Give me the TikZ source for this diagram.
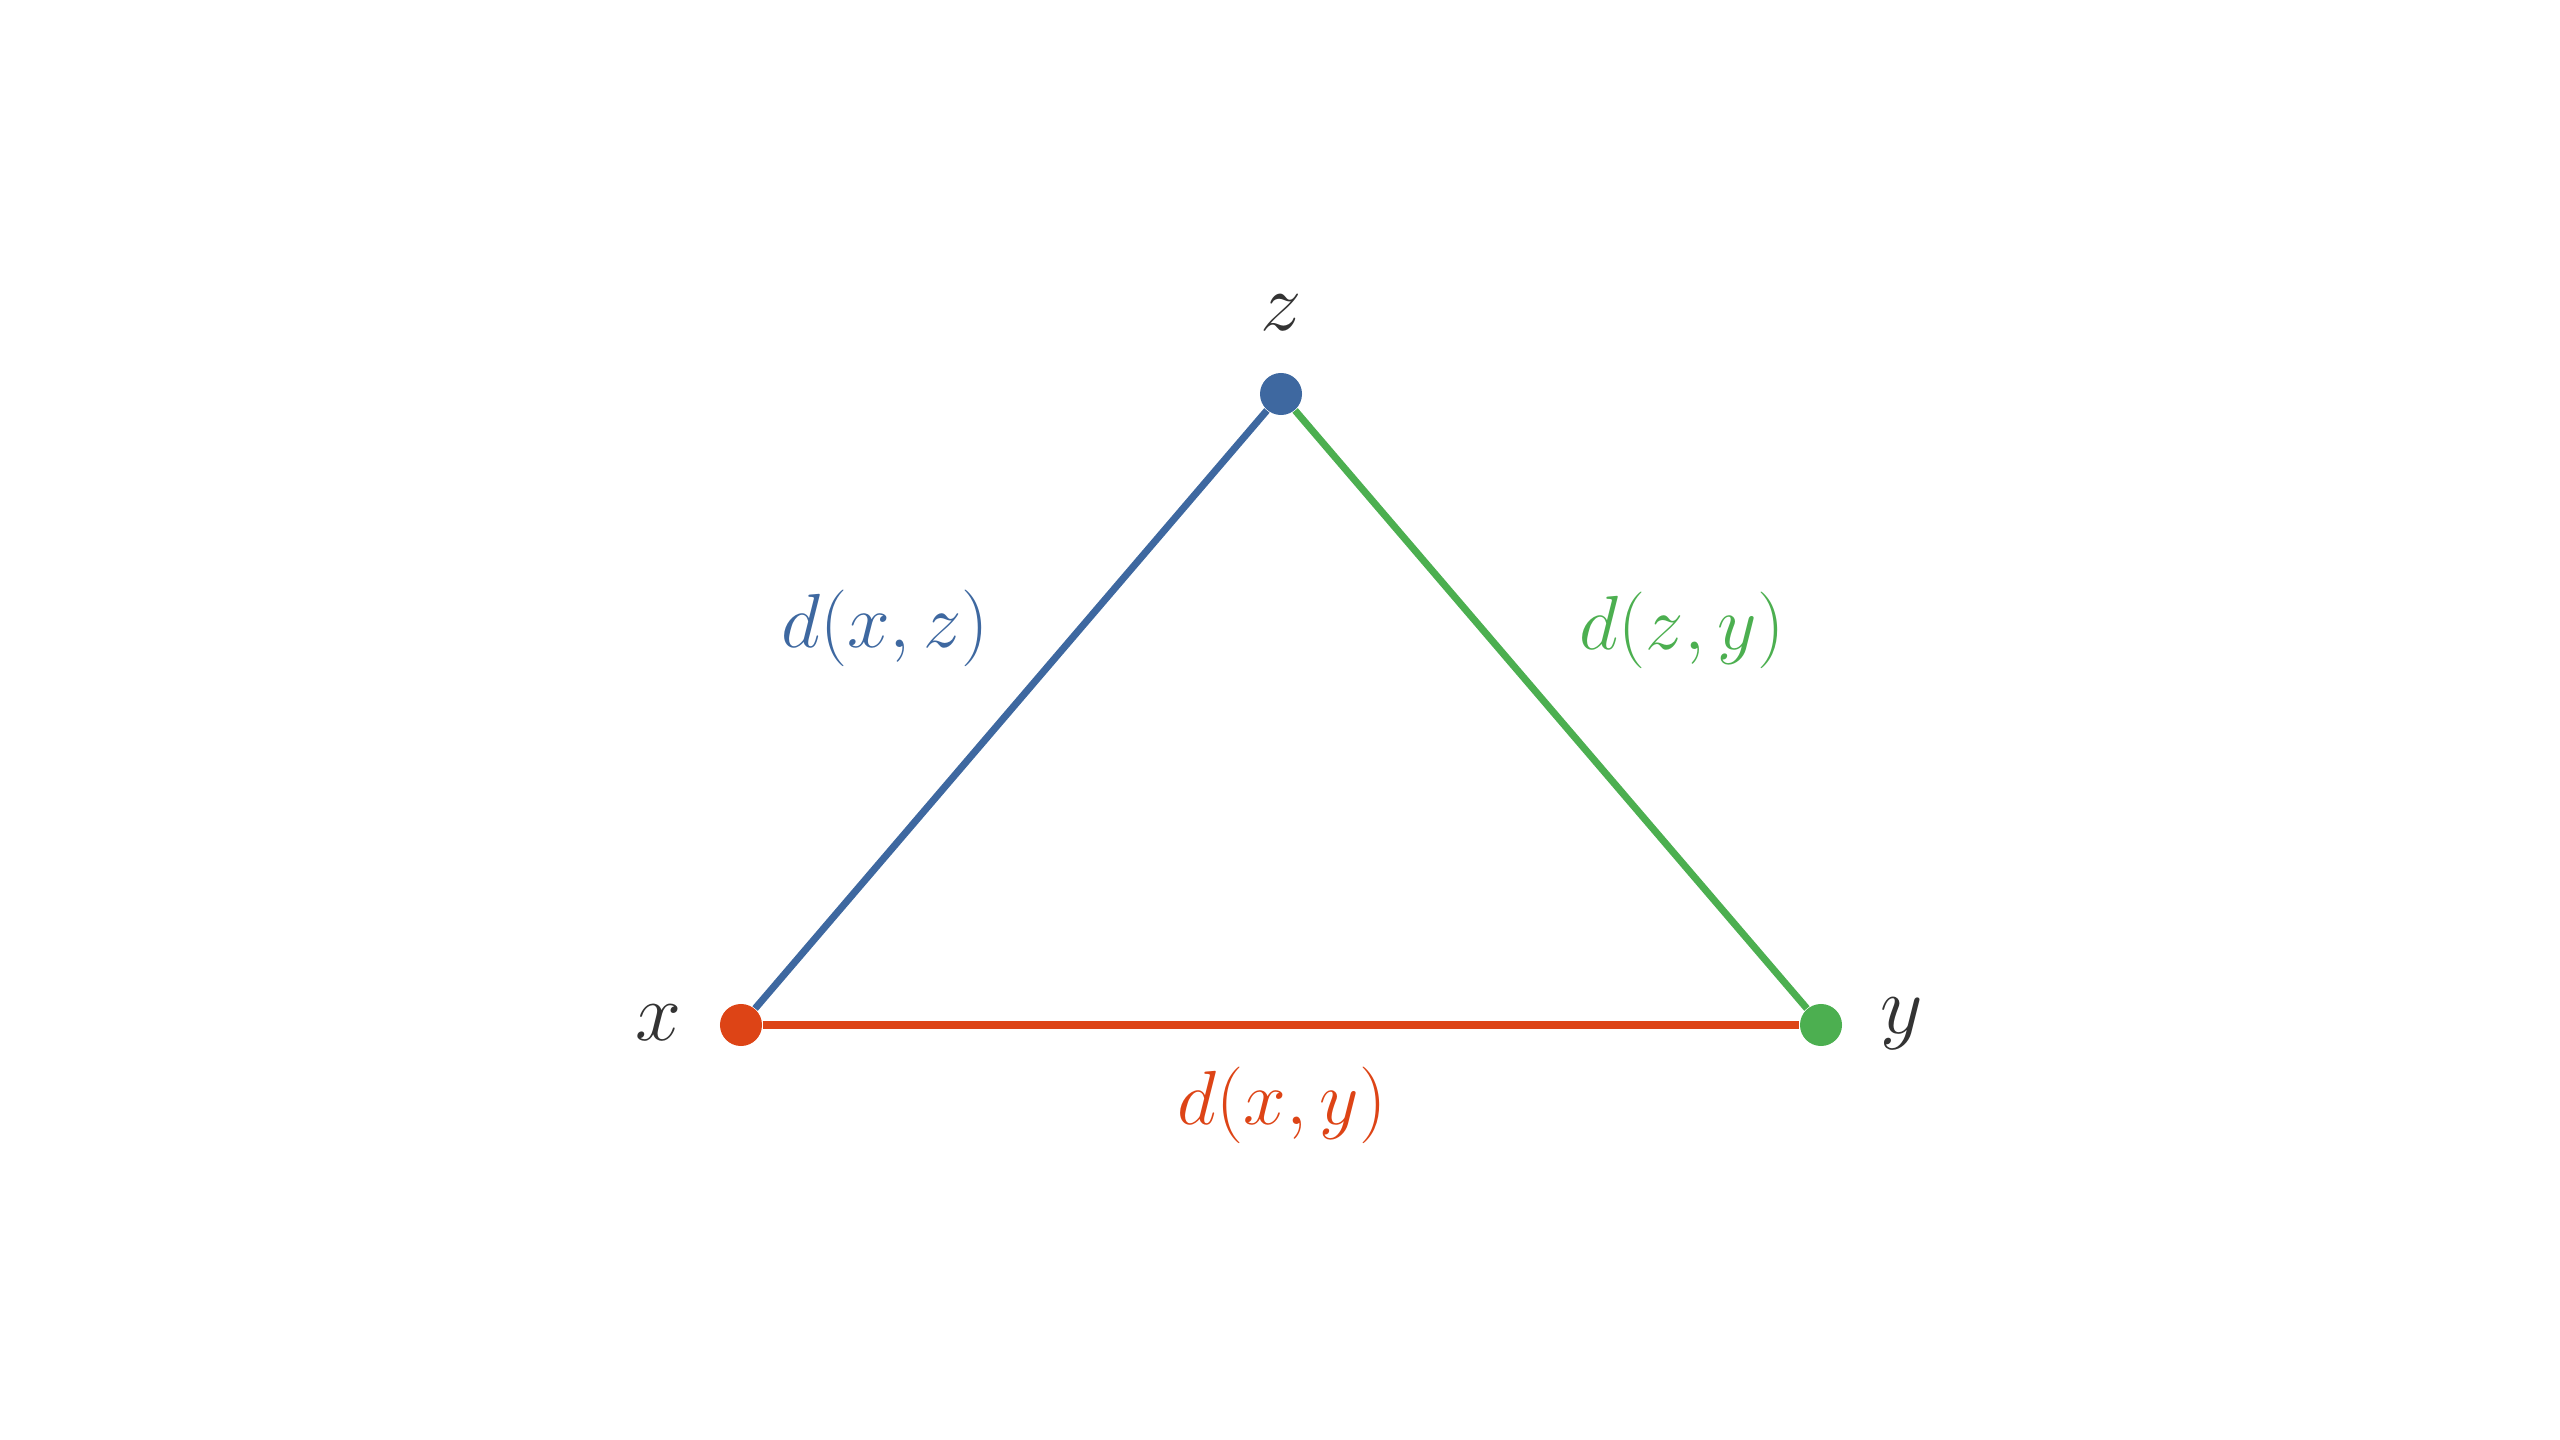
\RequirePackage{fix-cm}
\documentclass[tikz,border=0pt]{standalone}
\usepackage{amssymb}
\usepackage{mathtools}
\usepackage{tikz}
\definecolor{distblue}{RGB}{62,104,160}
\definecolor{distred}{RGB}{221,68,22}
\definecolor{distgreen}{RGB}{76,175,80}
\definecolor{ptlabel}{RGB}{51,51,51}

\begin{document}
\begin{tikzpicture}[x=0.01cm, y=-0.01cm,
  pt/.style={circle, fill, inner sep=0pt, minimum size=0.42cm},
  side/.style={line width=2pt},
  vlabel/.style={text=ptlabel, font=\fontsize{23.5}{28}\selectfont},
  dlabel/.style={font=\fontsize{21.8}{26}\selectfont}]
\useasboundingbox (0,0) rectangle (2560,1440);
\node [pt, distred] (px) at (741,1025) {};
\node [pt, distgreen] (py) at (1821,1025) {};
\node [pt, distblue] (pz) at (1281,394) {};
\node [vlabel] (lx) at (658,1023) {$x$};
\node [vlabel] (ly) at (1902,1024) {$y$};
\node [vlabel] (lz) at (1281,313) {$z$};
\draw [side, distblue] (px) -- (pz);
\draw [side, distgreen] (pz) -- (py);
\draw [side, distred] (px) -- (py);
\node [dlabel, distblue] (dxz) at (885,628) {$d(x,z)$};
\node [dlabel, distgreen] (dzy) at (1682,630) {$d(z,y)$};
\node [dlabel, distred] (dxy) at (1282,1105) {$d(x,y)$};
\end{tikzpicture}
\end{document}
